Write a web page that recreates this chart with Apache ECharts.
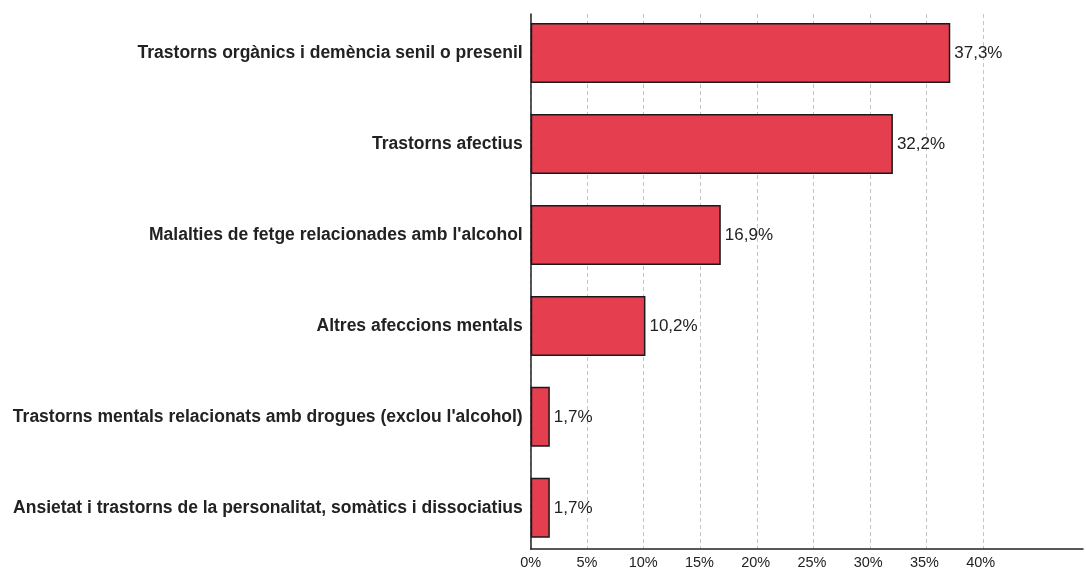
<!DOCTYPE html>
<html><head><meta charset="utf-8">
<script src="https://cdn.jsdelivr.net/npm/echarts@6/dist/echarts.min.js"></script>
<style>html,body{margin:0;padding:0;background:#fff}#c{width:1086px;height:570px}</style>
</head><body><div id="c"></div>
<script>
const categories = [
  "Trastorns orgànics i demència senil o presenil",
  "Trastorns afectius",
  "Malalties de fetge relacionades amb l'alcohol",
  "Altres afeccions mentals",
  "Trastorns mentals relacionats amb drogues (exclou l'alcohol)",
  "Ansietat i trastorns de la personalitat, somàtics i dissociatius"
];
const values = [37.3, 32.2, 16.9, 10.2, 1.7, 1.7];
const tickMax = 40;
const tickStep = 5;

const fmt = v => v.toFixed(1).replace('.', ',') + '%';
const chart = echarts.init(document.getElementById('c'), null, {renderer: 'canvas'});
chart.setOption({
  animation: false,
  grid: [
    {left: 530.7, right: 0, top: 7.5, bottom: 16.7},
    {left: 530.7, width: 452.1, top: 14, bottom: 21}
  ],
  xAxis: [
    {gridIndex: 0, type: 'value', min: 0, max: 49.1, interval: tickStep, offset: -4.3,
     axisLine: {show: true, lineStyle: {color: '#222', width: 1.5}},
     axisTick: {show: false}, splitLine: {show: false},
     axisLabel: {fontFamily: 'Arial, Liberation Sans', fontSize: 14.5, color: '#222', margin: 6,
       formatter: v => v <= tickMax ? v + '%' : ''}},
    {gridIndex: 1, type: 'value', min: 0, max: tickMax, interval: tickStep,
     axisLine: {show: false}, axisTick: {show: false}, axisLabel: {show: false},
     splitLine: {show: true, lineStyle: {color: '#c4c4c4', type: [4, 3], width: 1}}}
  ],
  yAxis: [
    {gridIndex: 0, type: 'category', data: categories, inverse: true,
     axisLine: {show: false}, axisTick: {show: false},
     axisLabel: {fontFamily: 'Arial, Liberation Sans', fontSize: 17.5, fontWeight: 'bold', color: '#222', margin: 8}},
    {gridIndex: 1, type: 'value', min: 0, max: 1,
     axisLine: {show: true, lineStyle: {color: '#222', width: 1.5}},
     axisTick: {show: false}, axisLabel: {show: false}, splitLine: {show: false}}
  ],
  series: [{
    type: 'bar', xAxisIndex: 0, yAxisIndex: 0, data: values, barWidth: 60, z: 5,
    itemStyle: {color: '#e43e4f', borderColor: '#1a1a1a', borderWidth: 1.5},
    label: {show: true, position: 'right', distance: 4, fontFamily: 'Arial, Liberation Sans',
      fontSize: 17, color: '#222', formatter: p => fmt(p.value)}
  }]
});
</script></body></html>
